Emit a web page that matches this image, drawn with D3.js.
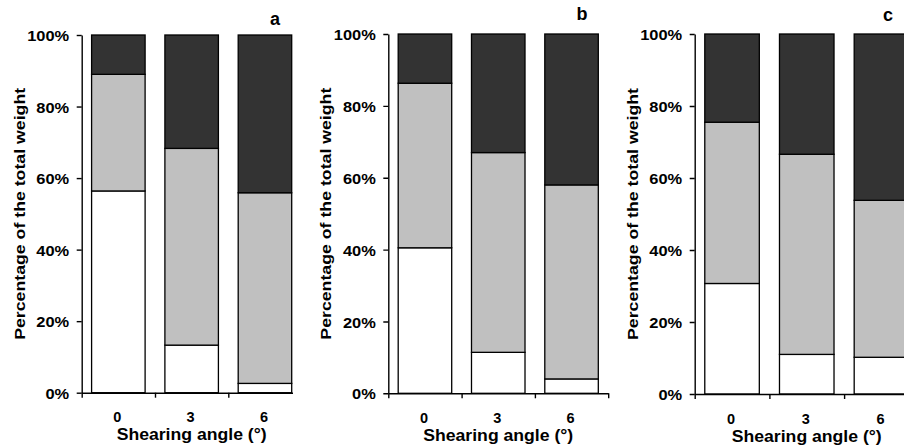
<!DOCTYPE html>
<html>
<head>
<meta charset="utf-8">
<script src="https://cdn.jsdelivr.net/npm/d3@7"></script>
<style>
html,body{margin:0;padding:0;background:#fff;}
svg{display:block;font-family:"Liberation Sans",Arial,sans-serif;font-weight:bold;}
</style>
</head>
<body>
<svg id="chart" width="904" height="447"></svg>
<script>
// ---- data ----
const categories = ["0", "3", "6"];
const panelLetters = ["a", "b", "c"];
const yTicks = [0, 20, 40, 60, 80, 100];
const xTitle = "Shearing angle (°)";
const yTitle = "Percentage of the total weight";

// percentage of the total weight, bottom (white), middle (grey), top (dark)
const bottomA = [56.4, 13.3, 2.6];
const middleA = [32.6, 55.0, 53.3];
const topA    = [11.0, 31.7, 44.1];

const bottomB = [40.5, 11.4, 4.0];
const middleB = [45.8, 55.6, 54.0];
const topB    = [13.7, 33.0, 42.0];

const bottomC = [30.7, 11.0, 10.2];
const middleC = [44.8, 55.6, 43.6];
const topC    = [24.5, 33.4, 46.2];

const seriesKeys = ["bottom", "middle", "top"];
const colors = {bottom: "#ffffff", middle: "#c0c0c0", top: "#333333"};

// ---- layout ----
const panels = [
  {letter: panelLetters[0], bottom: bottomA, middle: middleA, top: topA,
   x0: 81.7, yTop: 35, yBot: 392.7, step: 73.3, clipRight: 293, lx: 275, ly: 25},
  {letter: panelLetters[1], bottom: bottomB, middle: middleB, top: topB,
   x0: 388.3, yTop: 34, yBot: 393.3, step: 73.3, clipRight: 610, lx: 582, ly: 20},
  {letter: panelLetters[2], bottom: bottomC, middle: middleC, top: topC,
   x0: 694.7, yTop: 34, yBot: 394, step: 74.7, clipRight: 904, lx: 888, ly: 20.5}
];

const svg = d3.select("#chart");
const defs = svg.append("defs");

function stretch(sel, k) {
  sel.each(function () {
    const w = this.getComputedTextLength();
    d3.select(this).attr("textLength", w * k).attr("lengthAdjust", "spacingAndGlyphs");
  });
}

panels.forEach((p, i) => {
  const clipId = "clip" + i;
  defs.append("clipPath").attr("id", clipId)
    .append("rect").attr("x", p.x0 - 100).attr("y", 0)
    .attr("width", p.clipRight - (p.x0 - 100)).attr("height", 447);

  const g = svg.append("g").attr("clip-path", `url(#${clipId})`);

  const xEnd = p.x0 + categories.length * p.step;
  const x = d3.scaleBand().domain(categories).range([p.x0, xEnd])
    .paddingInner(0.27).paddingOuter(0.135);
  const xLin = d3.scaleLinear().domain([0, categories.length]).range([p.x0, xEnd]);
  const y = d3.scaleLinear().domain([0, 100]).range([p.yBot, p.yTop]);

  const table = categories.map((c, j) => ({
    cat: c, bottom: p.bottom[j], middle: p.middle[j], top: p.top[j]
  }));
  const stacked = d3.stack().keys(seriesKeys)(table);

  stacked.forEach(s => {
    g.selectAll(null).data(s).enter().append("rect")
      .attr("x", d => x(d.data.cat))
      .attr("width", x.bandwidth())
      .attr("y", d => y(d[1]))
      .attr("height", d => y(d[0]) - y(d[1]))
      .attr("fill", colors[s.key])
      .attr("stroke", "#000")
      .attr("stroke-width", 1.3);
  });

  // y axis
  const yAxis = g.append("g").attr("transform", `translate(${p.x0},0)`)
    .call(d3.axisLeft(y).tickValues(yTicks).tickFormat(d => d + "%")
      .tickSize(5).tickSizeOuter(0).tickPadding(7.5));
  yAxis.select(".domain").attr("stroke", "#000").attr("stroke-width", 1.4);
  yAxis.selectAll(".tick line").attr("stroke", "#000").attr("stroke-width", 1.4);
  yAxis.selectAll(".tick text").attr("font-size", 15.5).attr("font-weight", "bold")
    .attr("font-family", "Liberation Sans, Arial, sans-serif").attr("fill", "#000")
    .attr("dy", "0.36em");
  stretch(yAxis.selectAll(".tick text"), 1.06);

  // x axis (ticks at band boundaries)
  const xAxis = g.append("g").attr("transform", `translate(0,${p.yBot})`)
    .call(d3.axisBottom(xLin).tickValues(d3.range(categories.length + 1))
      .tickFormat("").tickSize(5).tickSizeOuter(0));
  xAxis.select(".domain").attr("stroke", "#000").attr("stroke-width", 1.4);
  xAxis.selectAll(".tick line").attr("stroke", "#000").attr("stroke-width", 1.4);

  // category labels
  g.selectAll(null).data(categories).enter().append("text")
    .attr("x", d => x(d) + x.bandwidth() / 2 - 1)
    .attr("y", p.yBot + 29.5)
    .attr("text-anchor", "middle")
    .attr("font-size", 14.5)
    .attr("fill", "#000")
    .text(d => d);

  // x title
  g.append("text")
    .attr("x", (p.x0 + xEnd) / 2)
    .attr("y", p.yBot + 47.5)
    .attr("text-anchor", "middle")
    .attr("font-size", 16)
    .attr("fill", "#000")
    .attr("textLength", 150)
    .attr("lengthAdjust", "spacingAndGlyphs")
    .text(xTitle);

  // y title
  const ty = (p.yTop + p.yBot) / 2;
  const tx = p.x0 - 57.2;
  g.append("text")
    .attr("transform", `translate(${tx},${ty}) rotate(-90)`)
    .attr("text-anchor", "middle")
    .attr("font-size", 15.5)
    .attr("fill", "#000")
    .attr("textLength", 252)
    .attr("lengthAdjust", "spacingAndGlyphs")
    .text(yTitle);

  // panel letter
  svg.append("text")
    .attr("x", p.lx).attr("y", p.ly)
    .attr("text-anchor", "middle")
    .attr("font-size", 18)
    .attr("fill", "#000")
    .text(p.letter);
});
</script>
</body>
</html>
